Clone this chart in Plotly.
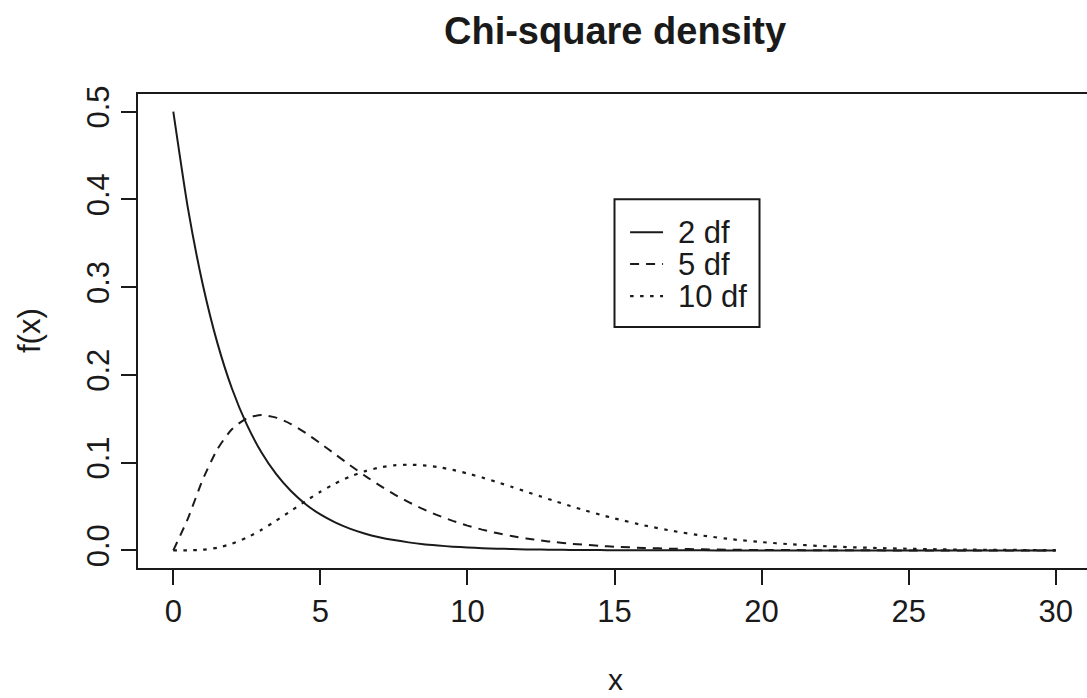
import plotly.graph_objects as go

# Sample points along x (finer where the curves bend most)
x_vals = [0, 0.5, 1, 1.5, 2, 2.5, 3, 3.5, 4, 4.5, 5, 5.5, 6, 6.5, 7, 7.5, 8, 8.5, 9, 9.5,
          10, 10.5, 11, 11.5, 12, 12.5, 13, 13.5, 14, 14.5, 15,
          16, 17, 18, 19, 20, 21, 22, 23, 24, 25, 26, 27, 28, 29, 30]

dens_2df = [0.5, 0.3894, 0.3033, 0.2362, 0.1839, 0.1433, 0.1116, 0.0869, 0.0677, 0.0527,
            0.0410, 0.0320, 0.0249, 0.0194, 0.0151, 0.0118, 0.0092, 0.0071, 0.0056, 0.0043,
            0.0034, 0.0026, 0.0020, 0.0016, 0.0012, 0.0010, 0.0008, 0.0006, 0.0005, 0.0004, 0.0003,
            0.0002, 0.0001, 0.0001, 0, 0, 0, 0, 0, 0, 0, 0, 0, 0, 0, 0]

dens_5df = [0, 0.0366, 0.0807, 0.1154, 0.1384, 0.1506, 0.1542, 0.1513, 0.1440, 0.1338,
            0.1220, 0.1097, 0.0973, 0.0854, 0.0744, 0.0642, 0.0551, 0.0470, 0.0399, 0.0337,
            0.0283, 0.0237, 0.0198, 0.0165, 0.0137, 0.0113, 0.0094, 0.0077, 0.0064, 0.0052, 0.0043,
            0.0029, 0.0019, 0.0013, 0.0008, 0.0005, 0.0004, 0.0002, 0.0001, 0.0001, 0, 0, 0, 0, 0, 0]

dens_10df = [0, 0.0001, 0.0008, 0.0031, 0.0077, 0.0146, 0.0235, 0.0340, 0.0451, 0.0563,
             0.0668, 0.0762, 0.0840, 0.0901, 0.0944, 0.0969, 0.0977, 0.0970, 0.0949, 0.0918,
             0.0877, 0.0831, 0.0779, 0.0725, 0.0669, 0.0614, 0.0559, 0.0506, 0.0456, 0.0409, 0.0365,
             0.0286, 0.0221, 0.0169, 0.0127, 0.0095, 0.0070, 0.0051, 0.0037, 0.0027, 0.0019,
             0.0013, 0.0009, 0.0007, 0.0005, 0.0003]

series_names = ["2 df", "5 df", "10 df"]
x_ticks = [0, 5, 10, 15, 20, 25, 30]
y_ticks = [0.0, 0.1, 0.2, 0.3, 0.4, 0.5]
y_tick_text = ["0.0", "0.1", "0.2", "0.3", "0.4", "0.5"]

FONT = "Liberation Sans"
INK = "#1a1a1a"
styles = [
    dict(dash="solid", width=2),
    dict(dash="9px,7px", width=2),
    dict(dash="3.5px,6.5px", width=2.2),
]

fig = go.Figure()
for name, ys, st in zip(series_names, [dens_2df, dens_5df, dens_10df], styles):
    fig.add_trace(go.Scatter(
        x=x_vals, y=ys, mode="lines", name=name, showlegend=False,
        line=dict(color=INK, width=st["width"], dash=st["dash"], shape="spline", smoothing=0.6),
    ))

# Boxed key placed at (15, 0.4) in data units
key_x0, key_y0, key_x1, key_y1 = 15, 0.4, 19.93, 0.2545
fig.add_shape(type="rect", xref="x", yref="y", x0=key_x0, y0=key_y0, x1=key_x1, y1=key_y1,
              line=dict(color=INK, width=2), fillcolor="white", layer="above")
key_rows = [0.3626, 0.3262, 0.2897]
for name, yy, st in zip(series_names, key_rows, styles):
    fig.add_shape(type="line", xref="x", yref="y", x0=15.53, x1=16.65, y0=yy, y1=yy,
                  line=dict(color=INK, width=st["width"], dash=st["dash"]), layer="above")
    fig.add_annotation(x=17.1, y=yy, xref="x", yref="y", text=name, showarrow=False,
                       xanchor="left", yanchor="middle",
                       font=dict(family=FONT, size=31, color=INK))

fig.add_annotation(text="<b>Chi-square density</b>", xref="paper", yref="paper",
                   x=(615 - 138) / 949, y=(568 - 31) / 474, xanchor="center", yanchor="middle",
                   showarrow=False, font=dict(family=FONT, size=38, color=INK))
fig.add_annotation(text="x", xref="paper", yref="paper",
                   x=(615 - 138) / 949, y=(568 - 679) / 474, xanchor="center", yanchor="middle",
                   showarrow=False, font=dict(family=FONT, size=30, color=INK))
fig.add_annotation(text="f(x)", xref="paper", yref="paper", textangle=-90,
                   x=(29 - 138) / 949, y=0.5, xanchor="center", yanchor="middle",
                   showarrow=False, font=dict(family=FONT, size=31, color=INK))

axis_common = dict(
    showgrid=False, zeroline=False, showline=True, linecolor=INK, linewidth=2,
    ticks="outside", ticklen=15, tickwidth=2, tickcolor=INK,
    tickfont=dict(family=FONT, size=31, color=INK),
)
fig.update_xaxes(range=[-1.2, 31.064], tickvals=x_ticks, mirror=True, **axis_common)
fig.update_yaxes(range=[-0.02, 0.52], tickvals=y_ticks, ticktext=y_tick_text,
                 tickangle=-90, **axis_common)

fig.update_layout(
    width=1087, height=698,
    margin=dict(l=138, r=0, t=94, b=130),
    paper_bgcolor="white", plot_bgcolor="white",
    font=dict(family=FONT, color=INK),
)

fig.write_html("out.html")
